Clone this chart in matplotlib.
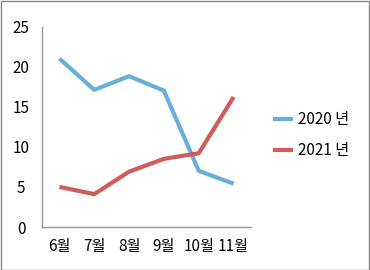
import matplotlib
matplotlib.use("Agg")
import matplotlib.pyplot as plt
from matplotlib.patches import Rectangle

plt.rcParams['font.family'] = ['Noto Sans CJK KR', 'DejaVu Sans']

months = ['6월', '7월', '8월', '9월', '10월', '11월']
s2020 = [21.0, 17.1, 18.8, 17.0, 7.0, 5.4]
s2021 = [5.0, 4.1, 6.9, 8.5, 9.2, 16.2]
labels = ['2020 년', '2021 년']
colors = ['#6AAED6', '#D05B5B']

fig = plt.figure(figsize=(3.7, 2.7), dpi=100)
ax = fig.add_axes([42/370, 1-227/270, 209/370, 200.5/270])
x = list(range(len(months)))
ax.plot(x, s2020, color=colors[0], lw=3, label=labels[0], solid_capstyle='butt')
ax.plot(x, s2021, color=colors[1], lw=3, label=labels[1], solid_capstyle='butt')
ax.set_xlim(-0.5, 5.5)
ax.set_ylim(0, 25)
ax.set_yticks([0, 5, 10, 15, 20, 25])
ax.set_xticks(x)
ax.set_xticklabels(months)
for s in ['top', 'right']:
    ax.spines[s].set_visible(False)
for s in ['left', 'bottom']:
    ax.spines[s].set_color('#999999')
    ax.spines[s].set_linewidth(1)
ax.tick_params(axis='both', length=0, labelsize=11, colors='black')
ax.tick_params(axis='x', pad=8)
for t in ax.get_yticklabels():
    t.set_horizontalalignment('center')
ax.yaxis.set_tick_params(pad=15)

leg = fig.legend(loc='center left', bbox_to_anchor=(259/370, 1-135/270), frameon=False,
                 fontsize=11, handlelength=1.3, handletextpad=0.35, labelspacing=0.9)

fig.add_artist(Rectangle((0.5/370, 0.5/270), 368.5/370, 268.5/270, transform=fig.transFigure,
                         fill=False, edgecolor='#888888', lw=1))
fig.savefig('out.png', dpi=100)
